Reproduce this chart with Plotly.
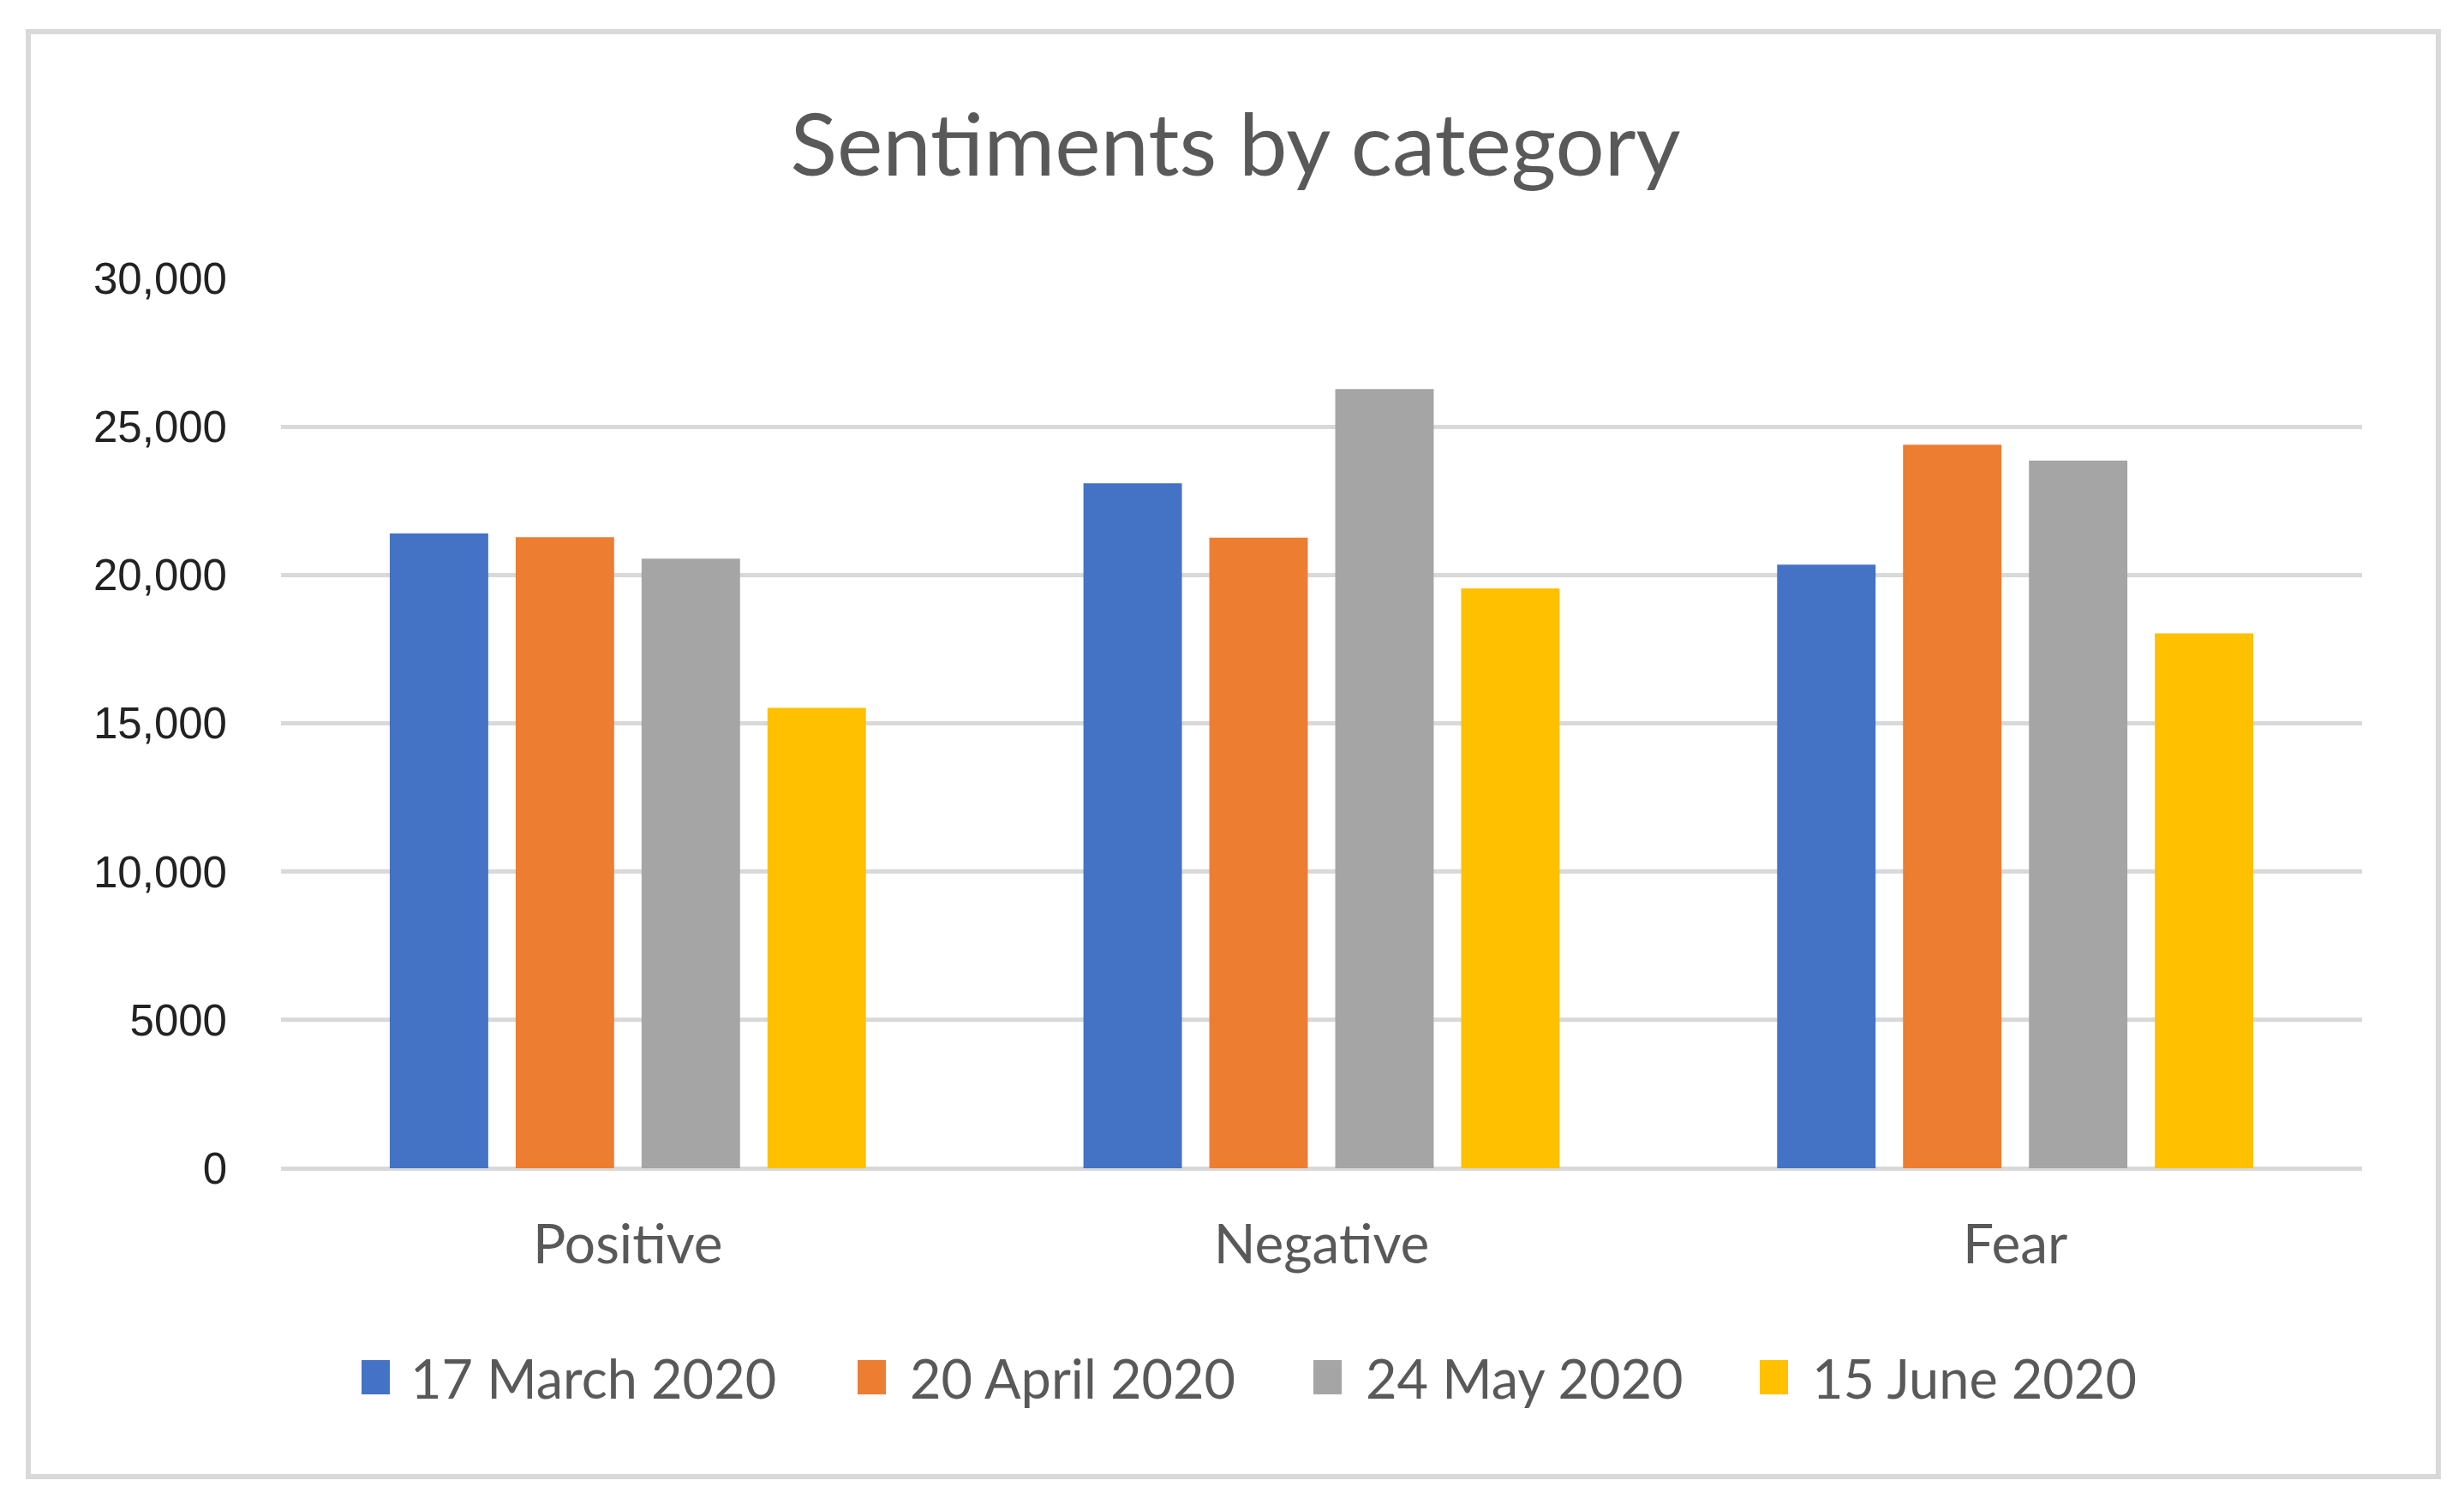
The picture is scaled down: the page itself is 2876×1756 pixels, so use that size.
import plotly.graph_objects as go

categories = ["Positive", "Negative", "Fear"]
series_names = ["17 March 2020", "20 April 2020", "24 May 2020", "15 June 2020"]
march_17 = [21400, 23090, 20350]
april_20 = [21270, 21260, 24390]
may_24 = [20550, 26270, 23860]
june_15 = [15520, 19550, 18030]
series_values = [march_17, april_20, may_24, june_15]
colors = ["#4472C4", "#ED7D31", "#A5A5A5", "#FFC000"]
tick_vals = [0, 5000, 10000, 15000, 20000, 25000, 30000]
tick_text = ["0", "5000", "10,000", "15,000", "20,000", "25,000", "30,000"]

# page coordinates (screenshot pixels); the page body adds an 8px offset
O = 8
FW, FH = 2860, 1740
L, R, T, B = 328, 2757, 325, 1364
pw, ph = R - L, B - T


def px(x):
    return (x - L) / pw


def py(y):
    return (B - y) / ph


fig = go.Figure()
for name, vals, col in zip(series_names, series_values, colors):
    fig.add_trace(go.Bar(x=categories, y=vals, name=name,
                         marker=dict(color=col, line=dict(width=0))))

grey_text = "#595959"
fig.update_layout(
    width=FW, height=FH,
    margin=dict(l=L - O, r=FW - (R - O), t=T - O, b=FH - (B - O), pad=0),
    paper_bgcolor="white", plot_bgcolor="white",
    barmode="group", bargap=0.274, bargroupgap=0.218,
    showlegend=False,
    title=dict(text="Sentiments by category", x=(1442 - O) / FW, xanchor="center",
               y=1 - (170 - O) / FH, yanchor="middle",
               font=dict(family="Lato", size=101, color=grey_text)),
    xaxis=dict(showgrid=False, showline=False, zeroline=False,
               ticks="", ticklabelstandoff=46,
               tickfont=dict(family="Lato", size=64, color=grey_text)),
    yaxis=dict(range=[0, 30000], tickvals=tick_vals, ticktext=tick_text,
               showgrid=True, gridcolor="#D9D9D9", gridwidth=5,
               zeroline=True, zerolinecolor="#D9D9D9", zerolinewidth=5,
               showline=False, ticks="", ticklabelstandoff=62,
               tickfont=dict(family="Liberation Sans", size=51, color="#222222")),
)

# outer chart border
fig.add_shape(type="rect", xref="paper", yref="paper",
              x0=px(33), x1=px(2846), y0=py(1724), y1=py(37),
              line=dict(color="#D9D9D9", width=6), fillcolor="rgba(0,0,0,0)",
              layer="below")

# legend (squares + labels)
sq_left = [422, 1001, 1533, 2054]
txt_left = [477, 1060, 1592, 2113]
ly = 1608
for name, col, sx, tx in zip(series_names, colors, sq_left, txt_left):
    fig.add_shape(type="rect", xref="paper", yref="paper",
                  x0=px(sx), x1=px(sx + 33), y0=py(ly + 20), y1=py(ly - 20),
                  line=dict(width=0), fillcolor=col)
    fig.add_annotation(xref="paper", yref="paper", x=px(tx), y=py(ly),
                       xanchor="left", yanchor="middle", showarrow=False,
                       text=name, font=dict(family="Lato", size=63, color=grey_text))

fig.write_html("out.html")
